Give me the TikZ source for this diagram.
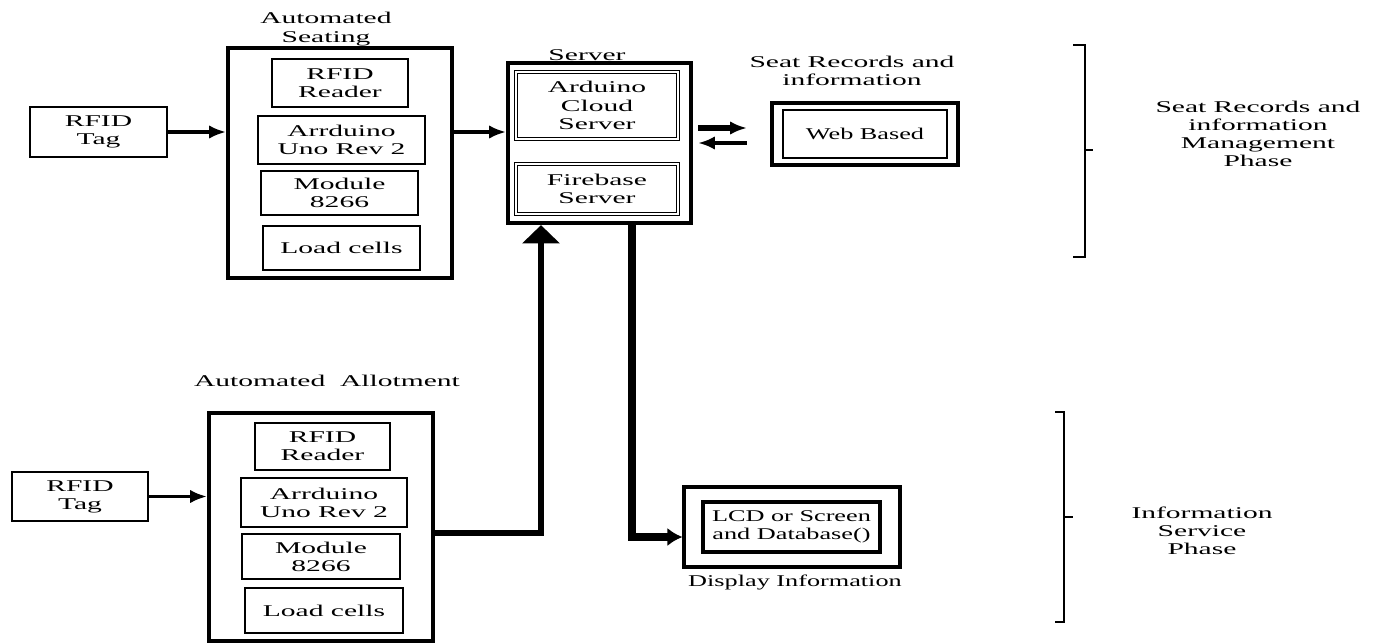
\documentclass[tikz,border=0pt]{standalone}
\usepackage{fontspec}
\setmainfont[FakeStretch=1.8]{Liberation Serif}
\newfontfamily\narrowserif[FakeStretch=1.6]{Liberation Serif}
\usetikzlibrary{arrows.meta}

\begin{document}
\begin{tikzpicture}[x=0.03cm, y=-0.03cm,
    font=\fontsize{14}{15.5}\selectfont,
    unit/.style={draw, line width=2.4pt, align=center, inner sep=0pt},
    frame/.style={draw, line width=3.6pt, inner sep=0pt},
    dbl/.style={draw, double, line width=1.5pt, double distance=1pt, align=center, inner sep=0pt},
    lbl/.style={align=center, inner sep=0pt},
    narrow/.style={font=\narrowserif\fontsize{14}{15.5}\selectfont},
    head/.tip={Latex[length=0.5cm, width=0.4cm]},
    link/.style={line width=2.6pt, -head},
    pipe/.style={line width=5pt, line join=miter}]
    \useasboundingbox (0,0) rectangle (1386,644);

    % Automated seating
    \node[lbl] (seatlbl) at (326,29) {Automated\\Seating};
    \node[unit, minimum width=4.11cm, minimum height=1.5cm] (tag1) at (98.5,132) {RFID\\Tag};
    \node[frame, minimum width=6.72cm, minimum height=6.9cm] (seat) at (340,163) {};
    \node[unit, minimum width=4.08cm, minimum height=1.44cm] (sreader) at (340,83) {RFID\\Reader};
    \node[unit, minimum width=5.01cm, minimum height=1.44cm] (suno) at (341.5,140) {Arrduino\\Uno Rev 2};
    \node[unit, minimum width=4.71cm, minimum height=1.32cm] (smod) at (339.5,193) {Module\\8266};
    \node[unit, minimum width=4.71cm, minimum height=1.32cm] (sload) at (341.5,248) {Load cells};

    % Server
    \node[lbl] (serverlbl) at (587,55) {Server};
    \node[frame, minimum width=5.49cm, minimum height=4.8cm] (server) at (599.5,143) {};
    \node[dbl, minimum width=4.86cm, minimum height=2.01cm] (cloud) at (597,105.5) {Arduino\\Cloud\\Server};
    \node[dbl, minimum width=4.86cm, minimum height=1.5cm] (fire) at (597,189) {Firebase\\Server};

    % Web based records
    \node[lbl] (weblbl) at (852,71) {Seat Records and\\information};
    \node[draw, line width=3pt, minimum width=5.58cm, minimum height=1.86cm] (webo) at (865,134) {};
    \node[unit, narrow, minimum width=4.92cm, minimum height=1.44cm] (web) at (865,134) {Web Based};

    % Automated allotment
    \node[lbl] (allotlbl) at (327,381) {Automated~~Allotment};
    \node[unit, minimum width=4.08cm, minimum height=1.47cm] (tag2) at (80,496.5) {RFID\\Tag};
    \node[frame, minimum width=6.72cm, minimum height=6.84cm] (allot) at (321,527) {};
    \node[unit, minimum width=4.05cm, minimum height=1.41cm] (areader) at (322.5,446.5) {RFID\\Reader};
    \node[unit, minimum width=4.98cm, minimum height=1.47cm] (auno) at (324,502.5) {Arrduino\\Uno Rev 2};
    \node[unit, minimum width=4.74cm, minimum height=1.35cm] (amod) at (321,556.5) {Module\\8266};
    \node[unit, minimum width=4.74cm, minimum height=1.35cm] (aload) at (324,610.5) {Load cells};

    % Display
    \node[draw, line width=2.6pt, minimum width=6.48cm, minimum height=2.4cm] (dispo) at (792,527) {};
    \node[unit, narrow, line width=3pt, minimum width=5.31cm, minimum height=1.5cm] (disp) at (791.5,527) {LCD or Screen\\and Database()};
    \node[lbl, narrow] (displbl) at (795,582) {Display Information};

    % Phases
    \node[lbl] (phase1) at (1258,134) {Seat Records and\\information\\Management\\Phase};
    \node[lbl] (phase2) at (1202,531) {Information\\Service\\Phase};
    \draw[line width=2pt] (1073,45) -- (1085,45) -- (1085,257) -- (1073,257) (1085,150) -- (1093,150);
    \draw[line width=2pt] (1055,412) -- (1064,412) -- (1064,622) -- (1055,622) (1064,517) -- (1073,517);

    % Connectors
    \draw[link] (tag1) -- (tag1 -| seat.west);
    \draw[link] (tag2) -- (tag2 -| allot.west);
    \draw[link] (tag1 -| seat.east) -- (tag1 -| server.west);
    \draw[link, line width=5pt, shorten <=0.15cm, shorten >=0.7cm] ([yshift=0.45cm]server.east) -- ([yshift=0.45cm]server.east -| webo.west);
    \draw[line width=4pt, head-, shorten <=0.15cm, shorten >=0.7cm] (server.east) -- (server.east -| webo.west);

    \coordinate (riser) at (541,533);
    \draw[pipe, -{Triangle[length=0.55cm, width=1.1cm]}] (allot.east |- riser) -| (server.south -| riser);
    \coordinate (drop) at (632,537);
    \draw[pipe, line width=7pt, -{Latex[length=0.45cm, width=0.55cm]}] (server.south -| drop) |- (drop -| dispo.west);
\end{tikzpicture}
\end{document}
